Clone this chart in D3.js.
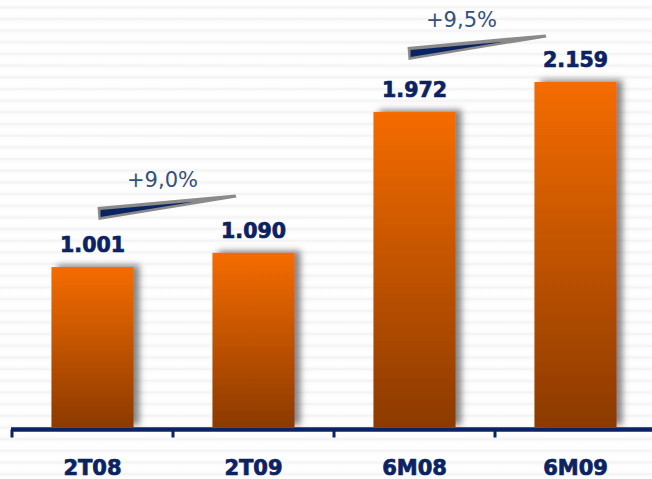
<!DOCTYPE html>
<html>
<head>
<meta charset="utf-8">
<script src="https://cdn.jsdelivr.net/npm/d3@7"></script>
<style>
  html, body { margin: 0; padding: 0; background: #fff; }
  svg { display: block; }
</style>
</head>
<body>
<svg id="chart" width="652" height="479"></svg>
<script>
// ---- data ----
const categories = ["2T08", "2T09", "6M08", "6M09"];
const values = [1001, 1090, 1972, 2159];
const valueLabels = ["1.001", "1.090", "1.972", "2.159"];
const growthFrom = ["2T08", "6M08"];
const growthTo = ["2T09", "6M09"];
const growthLabels = ["+9,0%", "+9,5%"];

// ---- layout ----
const W = 652, H = 479;
const svg = d3.select("#chart");
const navy = "#0b2263";
const labelBlue = "#34507f";
const fontFam = "DejaVu Sans, Verdana, sans-serif";

const defs = svg.append("defs");
// striped background
const pat = defs.append("pattern").attr("id", "stripes")
  .attr("patternUnits", "userSpaceOnUse").attr("width", 20).attr("height", 11.67)
  .attr("y", 1.5);
const sg = defs.append("linearGradient").attr("id", "stripeGrad")
  .attr("x1", 0).attr("y1", 0).attr("x2", 0).attr("y2", 1);
sg.append("stop").attr("offset", "0%").attr("stop-color", "#ffffff");
sg.append("stop").attr("offset", "35%").attr("stop-color", "#fcfcfc");
sg.append("stop").attr("offset", "50%").attr("stop-color", "#f1f1f1");
sg.append("stop").attr("offset", "65%").attr("stop-color", "#fcfcfc");
sg.append("stop").attr("offset", "100%").attr("stop-color", "#ffffff");
pat.append("rect").attr("width", 20).attr("height", 11.67).attr("fill", "url(#stripeGrad)");
svg.append("rect").attr("width", W).attr("height", H).attr("fill", "url(#stripes)");

// bar gradient
const bg = defs.append("linearGradient").attr("id", "barGrad")
  .attr("x1", 0).attr("y1", 0).attr("x2", 0).attr("y2", 1);
bg.append("stop").attr("offset", "0%").attr("stop-color", "#f56c00");
bg.append("stop").attr("offset", "100%").attr("stop-color", "#8c3a00");

// shadow
const f = defs.append("filter").attr("id", "shadow")
  .attr("x", "-20%").attr("y", "-20%").attr("width", "150%").attr("height", "140%");
f.append("feDropShadow").attr("dx", 6).attr("dy", -2).attr("stdDeviation", 3)
  .attr("flood-color", "#555").attr("flood-opacity", 0.7);

// scales
const x = d3.scaleBand().domain(categories).range([12, 656])
  .paddingInner(0.49).paddingOuter(0.245);
const y = d3.scaleLinear().domain([0, 2159]).range([427, 82]);
const bw = x.bandwidth();
const step = x.step();

// bars
svg.append("g").selectAll("rect").data(categories).join("rect")
  .attr("x", d => x(d))
  .attr("y", (d, i) => y(values[i]))
  .attr("width", bw)
  .attr("height", (d, i) => y(0) - y(values[i]))
  .attr("fill", "url(#barGrad)")
  .attr("filter", "url(#shadow)");

// value labels
svg.append("g").selectAll("text").data(categories).join("text")
  .attr("x", d => x(d) + bw / 2)
  .attr("y", (d, i) => y(values[i]) - 15)
  .attr("text-anchor", "middle")
  .attr("font-family", fontFam)
  .attr("font-weight", "bold")
  .attr("font-size", 20.5)
  .attr("fill", navy)
  .attr("stroke", navy).attr("stroke-width", 0.7)
  .text((d, i) => valueLabels[i]);

// axis
const axisY = y(0) + 2.5;
const axisG = svg.append("g");
axisG.append("line")
  .attr("x1", x.range()[0] - 1).attr("x2", x.range()[1])
  .attr("y1", axisY).attr("y2", axisY)
  .attr("stroke", navy).attr("stroke-width", 4.5);
const tickXs = d3.range(categories.length + 1).map(i => x.range()[0] + i * step);
axisG.selectAll(".tick").data(tickXs).join("line")
  .attr("x1", d => d).attr("x2", d => d)
  .attr("y1", axisY).attr("y2", axisY + 8)
  .attr("stroke", navy).attr("stroke-width", 3);

// category labels
svg.append("g").selectAll("text").data(categories).join("text")
  .attr("x", d => x(d) + bw / 2)
  .attr("y", 475)
  .attr("text-anchor", "middle")
  .attr("font-family", fontFam)
  .attr("font-weight", "bold")
  .attr("font-size", 21)
  .attr("fill", navy)
  .attr("stroke", navy).attr("stroke-width", 0.7)
  .text(d => d);

// growth annotations (offsets relative to the "from" bar centre and top)
const annLayout = [
  { x0: 5, x1: 143, yL: 53.5, yT: 71, lx: 70, ly: 80 },
  { x0: -7, x1: 131, yL: 58.5, yT: 76, lx: 47, ly: 85 }
];
growthFrom.forEach((from, k) => {
  const i = categories.indexOf(from);
  const cx = x(from) + bw / 2;
  const top = y(values[i]);
  const L = annLayout[k];
  const x0 = cx + L.x0, x1 = cx + L.x1, yL = top - L.yL, yT = top - L.yT;
  const g = svg.append("g");
  g.append("polygon")
    .attr("points", [[x0, yL - 6.5], [x1, yT - 1.5], [x1 + 1, yT + 1.5], [x0 + 1, yL + 6.5]].map(p => p.join(",")).join(" "))
    .attr("fill", "#8a8a8a");
  const xn = x0 + 0.7 * (x1 - x0);
  const yn = yL + 0.7 * (yT - yL);
  g.append("polygon")
    .attr("points", [[x0 + 3, yL - 3.5], [xn, yn + 0.5], [x0 + 3, yL + 3.5]].map(p => p.join(",")).join(" "))
    .attr("fill", "#0a2463");
  g.append("text")
    .attr("x", cx + L.lx).attr("y", top - L.ly)
    .attr("text-anchor", "middle")
    .attr("font-family", fontFam)
    .attr("font-size", 21)
    .attr("fill", labelBlue)
    .text(growthLabels[k]);
});
</script>
</body>
</html>
